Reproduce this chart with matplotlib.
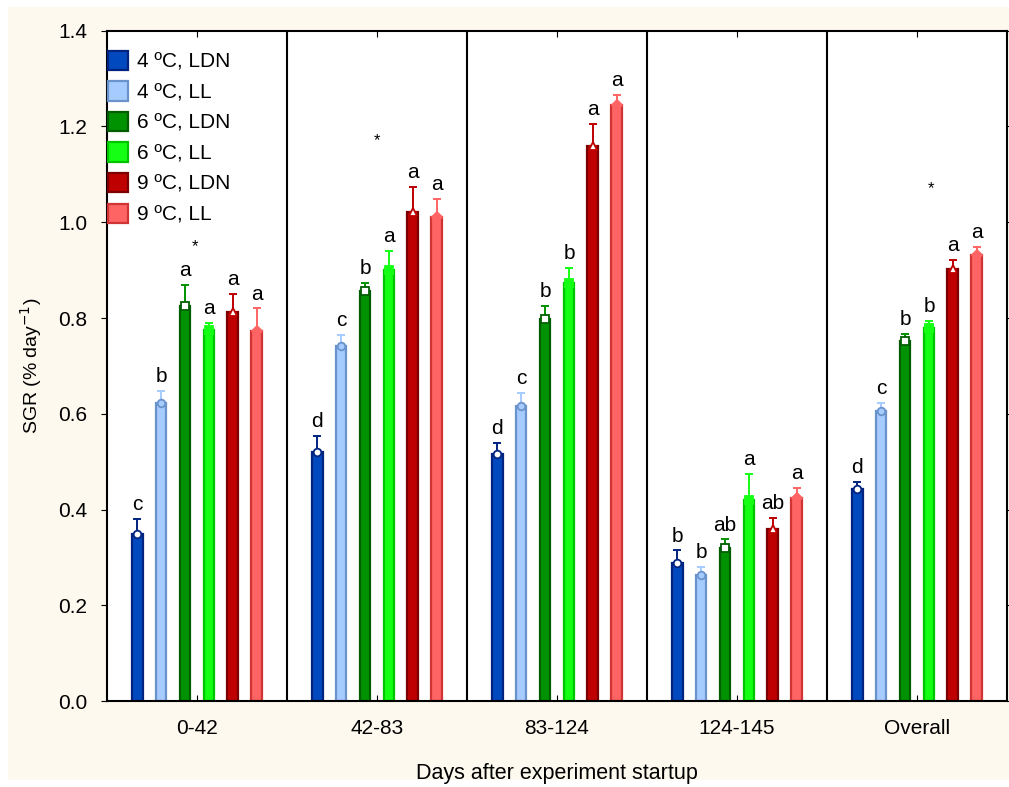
import numpy as np
import matplotlib.pyplot as plt
from matplotlib.patches import Rectangle

plt.rcParams['font.family'] = ['Liberation Sans', 'DejaVu Sans']

periods = ["0-42", "42-83", "83-124", "124-145", "Overall"]
treatments = ["4 ºC, LDN", "4 ºC, LL", "6 ºC, LDN", "6 ºC, LL", "9 ºC, LDN", "9 ºC, LL"]

# mean SGR per treatment, one list per period
sgr_0_42 = [0.35, 0.623, 0.825, 0.775, 0.813, 0.773]
sgr_42_83 = [0.52, 0.742, 0.857, 0.90, 1.022, 1.011]
sgr_83_124 = [0.516, 0.616, 0.798, 0.873, 1.16, 1.245]
sgr_124_145 = [0.288, 0.263, 0.32, 0.42, 0.359, 0.424]
sgr_overall = [0.443, 0.606, 0.752, 0.78, 0.903, 0.932]

# upper error (SE)
se_0_42 = [0.03, 0.025, 0.045, 0.015, 0.037, 0.047]
se_42_83 = [0.034, 0.023, 0.016, 0.04, 0.052, 0.038]
se_83_124 = [0.023, 0.028, 0.027, 0.032, 0.046, 0.021]
se_124_145 = [0.027, 0.017, 0.018, 0.054, 0.023, 0.021]
se_overall = [0.015, 0.017, 0.015, 0.014, 0.018, 0.017]

letters_0_42 = ["c", "b", "a", "a", "a", "a"]
letters_42_83 = ["d", "c", "b", "a", "a", "a"]
letters_83_124 = ["d", "c", "b", "b", "a", "a"]
letters_124_145 = ["b", "b", "ab", "a", "ab", "a"]
letters_overall = ["d", "c", "b", "b", "a", "a"]

# asterisks: (period index, x offset, height)
star_pos = [(0, -0.01, 0.95), (1, 0.0, 1.17), (4, 0.08, 1.07)]

face_colors = ["#0049BE", "#A6CBFF", "#009200", "#14FF14", "#BE0000", "#FF6464"]
edge_colors = ["#00237F", "#6A93CC", "#005E00", "#00C400", "#7D0000", "#D03434"]
markers = ["o", "o", "s", "s", "^", "D"]
marker_fill = [False, True, False, True, False, True]

means = np.array([sgr_0_42, sgr_42_83, sgr_83_124, sgr_124_145, sgr_overall])
errs = np.array([se_0_42, se_42_83, se_83_124, se_124_145, se_overall])
letters = [letters_0_42, letters_42_83, letters_83_124, letters_124_145, letters_overall]

fig = plt.figure(figsize=(10.09, 7.87), dpi=100)
fig.patch.set_facecolor("white")
fig.patches.append(Rectangle((8 / 1009, 7 / 787), 1, 773 / 787, transform=fig.transFigure,
                             facecolor="#FDF9EF", edgecolor="none", zorder=-10))
ax = fig.add_axes([0.106, 0.109, 0.892, 0.852])

centers = np.arange(len(periods)) + 0.5
step = 0.133
width = 0.06
for i, name in enumerate(treatments):
    x = centers + (i - 2.5) * step
    ax.bar(x, means[:, i], width=width, color=face_colors[i], edgecolor=edge_colors[i],
           linewidth=1.6, label=name, zorder=2)
    ax.errorbar(x, means[:, i], yerr=[np.zeros(len(x)), errs[:, i]], fmt="none",
                ecolor=face_colors[i] if i != 0 else edge_colors[i], elinewidth=1.4,
                capsize=3, capthick=1.4, zorder=3)
    ax.plot(x, means[:, i], linestyle="none", marker=markers[i], markersize=5.5,
            markerfacecolor=face_colors[i] if marker_fill[i] else "white",
            markeredgecolor=edge_colors[i] if i < 3 else face_colors[i],
            markeredgewidth=1.3, zorder=4)
    for j in range(len(periods)):
        ax.text(x[j], means[j, i] + errs[j, i] + 0.01, letters[j][i],
                ha="center", va="bottom", fontsize=15)

for p, dx, h in star_pos:
    ax.text(centers[p] + dx, h, "*", ha="center", va="center", fontsize=12)

for d in range(1, len(periods)):
    ax.axvline(d, color="black", linewidth=1.5, zorder=1)

ax.set_xlim(0, len(periods))
ax.set_ylim(0, 1.4)
ax.set_xticks(centers)
ax.set_xticklabels(periods, fontsize=15)
ax.set_yticks(np.arange(0, 1.41, 0.2))
ax.set_yticklabels(["%.1f" % v for v in np.arange(0, 1.41, 0.2)], fontsize=15)
ax.tick_params(axis="x", direction="in", length=4, top=True, pad=13)
ax.tick_params(axis="y", direction="out", length=4, right=True, pad=10)
for s in ax.spines.values():
    s.set_linewidth(1.5)

ax.set_xlabel("Days after experiment startup", fontsize=15.5, labelpad=18)
ax.set_ylabel("SGR (% day$^{-1}$)", fontsize=14, labelpad=10)

ax.legend(loc="upper left", bbox_to_anchor=(0.0015, 0.97), frameon=False, fontsize=15,
          handlelength=0.95, handleheight=1.05, handletextpad=0.45, labelspacing=0.47,
          borderaxespad=0.0, borderpad=0.0)

fig.savefig("out.png", dpi=100)
